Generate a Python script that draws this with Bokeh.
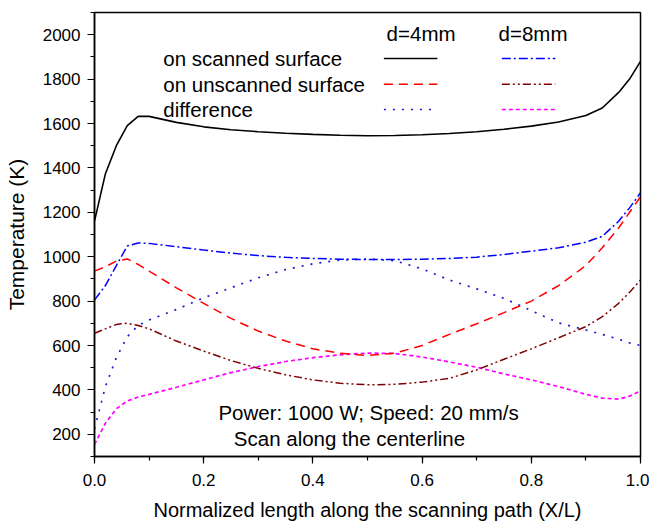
from bokeh.plotting import figure
from bokeh.models import Range1d, SingleIntervalTicker, NumeralTickFormatter
from bokeh.core.properties import value
from bokeh.embed import file_html
from bokeh.resources import INLINE

# Position along the scanning path (X/L)
x = [0.0, 0.02, 0.04, 0.06, 0.08, 0.10, 0.15, 0.20, 0.25, 0.30, 0.35, 0.40, 0.45,
     0.50, 0.55, 0.60, 0.65, 0.70, 0.75, 0.80, 0.85, 0.90, 0.93, 0.96, 0.98, 1.0]

# Temperatures (K), d = 4 mm
scanned_4 = [1160, 1374, 1500, 1590, 1632, 1632, 1605, 1585, 1572, 1563, 1556, 1551, 1547,
             1545, 1546, 1549, 1555, 1563, 1574, 1588, 1607, 1636, 1670, 1740, 1800, 1880]
unscanned_4 = [935, 955, 980, 990, 965, 935, 860, 790, 722, 665, 620, 585, 565,
               555, 565, 600, 650, 698, 748, 800, 870, 960, 1040, 1130, 1200, 1270]
difference_4 = [225, 415, 545, 640, 690, 715, 762, 815, 860, 905, 942, 968, 985,
                990, 982, 945, 895, 855, 812, 757, 702, 670, 650, 628, 612, 600]

# Temperatures (K), d = 8 mm
scanned_8 = [805, 870, 960, 1048, 1062, 1060, 1045, 1030, 1016, 1005, 997, 992, 989,
             987, 987, 989, 992, 998, 1010, 1025, 1040, 1065, 1092, 1160, 1220, 1288]
unscanned_8 = [655, 675, 695, 700, 690, 675, 620, 575, 532, 497, 468, 445, 430,
               423, 425, 435, 452, 490, 538, 585, 635, 685, 730, 790, 840, 895]
difference_8 = [155, 250, 315, 350, 368, 380, 412, 445, 478, 505, 528, 545, 558,
                566, 564, 548, 526, 502, 472, 445, 415, 380, 363, 358, 372, 395]

FONT = "Liberation Sans"

p = figure(width=649, height=523, output_backend="svg", toolbar_location=None,
           x_range=Range1d(0, 1), y_range=Range1d(100, 2100),
           min_border_left=94, min_border_right=9, min_border_top=12, min_border_bottom=67)

p.grid.visible = False
p.background_fill_color = "white"
p.border_fill_color = "white"
p.outline_line_color = "black"
p.outline_line_width = 1.5

p.xaxis.ticker = SingleIntervalTicker(interval=0.2, num_minor_ticks=2)
p.xaxis.formatter = NumeralTickFormatter(format="0.0")
p.yaxis.ticker = SingleIntervalTicker(interval=200, num_minor_ticks=2)

for ax in (p.xaxis[0], p.yaxis[0]):
    ax.axis_line_width = 1.5
    ax.axis_line_color = "black"
    ax.major_tick_line_color = "black"
    ax.minor_tick_line_color = "black"
    ax.major_tick_line_width = 1.2
    ax.minor_tick_line_width = 1.2
    ax.major_tick_in = 0
    ax.minor_tick_in = 0
    ax.major_tick_out = 7
    ax.minor_tick_out = 4
    ax.major_label_text_font = FONT
    ax.major_label_text_font_size = "17px"
    ax.major_label_text_color = "black"
    ax.axis_label_text_font = FONT
    ax.axis_label_text_font_style = "normal"
    ax.axis_label_text_color = "black"

p.xaxis.axis_label = "Normalized length along the scanning path (X/L)"
p.xaxis.axis_label_text_font_size = "20px"
p.xaxis.major_label_standoff = 10
p.xaxis.axis_label_standoff = 10
p.yaxis.axis_label = "Temperature (K)"
p.yaxis.axis_label_text_font_size = "21px"
p.yaxis.major_label_standoff = 7
p.yaxis.axis_label_standoff = 12

# Line styles: (color, dash, width)
styles = {
    "scanned_4": ("black", "solid", 1.6),
    "unscanned_4": ("#ff0000", "9 6", 1.5),
    "difference_4": ("#1a1acc", "2 7", 1.7),
    "scanned_8": ("#0000ff", "9 3 2 3", 1.5),
    "unscanned_8": ("#800000", "8 3 2 3 2 3", 1.5),
    "difference_8": ("#ff00ff", "4 3", 1.7),
}
series = {
    "scanned_4": scanned_4, "unscanned_4": unscanned_4, "difference_4": difference_4,
    "scanned_8": scanned_8, "unscanned_8": unscanned_8, "difference_8": difference_8,
}

for key in ["difference_8", "difference_4", "unscanned_8", "unscanned_4", "scanned_8", "scanned_4"]:
    color, dash, w = styles[key]
    p.line(x, series[key], line_color=color, line_dash=dash, line_width=w)

# Table-style legend: row names on the left, one key sample per spacing column
row_names = ["on scanned surface", "on unscanned surface", "difference"]
row_y = [1893, 1777, 1663]
col_heads = ["d=4mm", "d=8mm"]
head_x = [0.535, 0.740]
head_y = 2005
key_x = [(0.530, 0.628), (0.746, 0.844)]
keys = [["scanned_4", "unscanned_4", "difference_4"],
        ["scanned_8", "unscanned_8", "difference_8"]]

p.text(x=[0.126] * 3, y=row_y, text=row_names, text_font=value(FONT),
       text_font_size="20.5px", text_baseline="middle", text_align="left", text_color="black")
p.text(x=head_x, y=[head_y] * 2, text=col_heads, text_font=value(FONT),
       text_font_size="20.5px", text_baseline="middle", text_align="left", text_color="black")
for (x0, x1), col in zip(key_x, keys):
    for yy, key in zip(row_y, col):
        color, dash, w = styles[key]
        p.line([x0, x1], [yy, yy], line_color=color, line_dash=dash, line_width=w)

# Run conditions
p.text(x=[0.502], y=[300], text=["Power: 1000 W; Speed: 20 mm/s"], text_font=value(FONT),
       text_font_size="20.5px", text_baseline="middle", text_align="center", text_color="black")
p.text(x=[0.467], y=[181], text=["Scan along the centerline"], text_font=value(FONT),
       text_font_size="20.5px", text_baseline="middle", text_align="center", text_color="black")

open("out.html", "w").write(file_html(p, INLINE))
